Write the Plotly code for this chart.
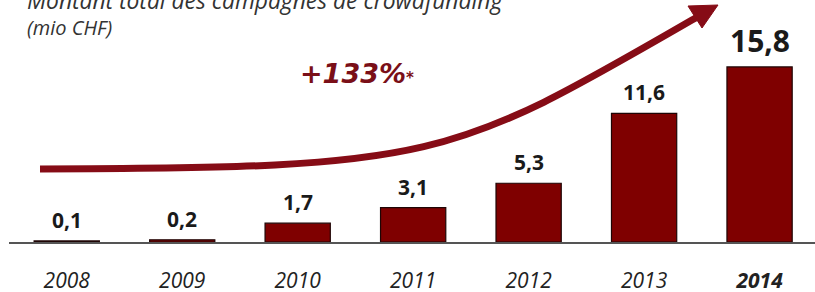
import plotly.graph_objects as go

# ---- data ----
years = ["2008", "2009", "2010", "2011", "2012", "2013", "2014"]
values = [0.1, 0.2, 1.7, 3.1, 5.3, 11.6, 15.8]
value_labels = ["0,1", "0,2", "1,7", "3,1", "5,3", "11,6", "15,8"]
year_labels = ["2008", "2009", "2010", "2011", "2012", "2013", "<b>2014</b>"]
title_line1 = "Montant total des campagnes de crowdfunding"
title_line2 = "(mio CHF)"
growth_text = "+133%"

W, H = 815, 292
L, R, T, B = 9, 0, 0, 50
PW, PH = W - L - R, H - T - B

def px(x):
    return (x - L) / PW

def py(y):
    return (H - B - y) / PH

BAR = "#7f0000"
ARROW = "#860c16"

fig = go.Figure()
fig.add_trace(go.Bar(
    x=years, y=values,
    marker=dict(color=BAR, line=dict(color="#1e0505", width=1.2)),
    width=0.565,
    hoverinfo="skip",
))

# value labels
for i, (v, lab) in enumerate(zip(values, value_labels)):
    big = (i == len(years) - 1)
    fig.add_annotation(
        x=i, y=v, xref="x", yref="y", text="<b>%s</b>" % lab, showarrow=False,
        yanchor="bottom", yshift=4 if big else 5,
        font=dict(family="Open Sans", size=30 if big else 21, color="#1a1a1a"),
    )

# title
fig.add_annotation(xref="paper", yref="paper", x=px(25), y=py(1), xanchor="left", yanchor="middle",
                   text="<i>%s</i>" % title_line1, showarrow=False,
                   font=dict(family="Open Sans", size=22.8, color="#333333"))
fig.add_annotation(xref="paper", yref="paper", x=px(25), y=py(28), xanchor="left", yanchor="middle",
                   text="<i>%s</i>" % title_line2, showarrow=False,
                   font=dict(family="Open Sans", size=20, color="#333333"))

# growth text
fig.add_annotation(xref="paper", yref="paper", x=px(357), y=py(73), xanchor="center", yanchor="middle",
                   text="<b><i>%s</i></b><span style='font-size:15px'><b>*</b></span>" % growth_text,
                   showarrow=False,
                   font=dict(family="DejaVu Sans", size=27, color="#7a0f18"))

# curved arrow
p0, c1, c2, p3 = (40, 169), (440, 168), (450, 160), (699, 16)
path = "M {},{} C {},{} {},{} {},{}".format(px(p0[0]), py(p0[1]), px(c1[0]), py(c1[1]),
                                            px(c2[0]), py(c2[1]), px(p3[0]), py(p3[1]))
fig.add_shape(type="path", xref="paper", yref="paper", path=path,
              line=dict(color=ARROW, width=7), layer="above")
tip, b1, b2 = (718, 5), (702, 28), (688, 6)
head = "M {},{} L {},{} L {},{} Z".format(px(tip[0]), py(tip[1]), px(b1[0]), py(b1[1]), px(b2[0]), py(b2[1]))
fig.add_shape(type="path", xref="paper", yref="paper", path=head,
              line=dict(color=ARROW, width=1), fillcolor=ARROW, layer="above")

fig.update_layout(
    width=W, height=H, margin=dict(l=L, r=R, t=T, b=B, autoexpand=False),
    paper_bgcolor="white", plot_bgcolor="white",
    showlegend=False,
    xaxis=dict(type="category", range=[-0.5, 6.48], showgrid=False, zeroline=False,
               automargin=False,
               showline=True, linecolor="#555555", linewidth=2,
               tickmode="array", tickvals=years, ticktext=year_labels, ticks="",
               tickfont=dict(family="Open Sans", size=21, color="#222222", style="italic"),
               ticklabelstandoff=19),
    yaxis=dict(range=[0, 21.84], visible=False, showgrid=False, zeroline=False, automargin=False),
)

fig.write_html("out.html", config={"displayModeBar": False, "staticPlot": True},
               post_script="document.body.style.margin='0';document.body.style.overflow='hidden';")
